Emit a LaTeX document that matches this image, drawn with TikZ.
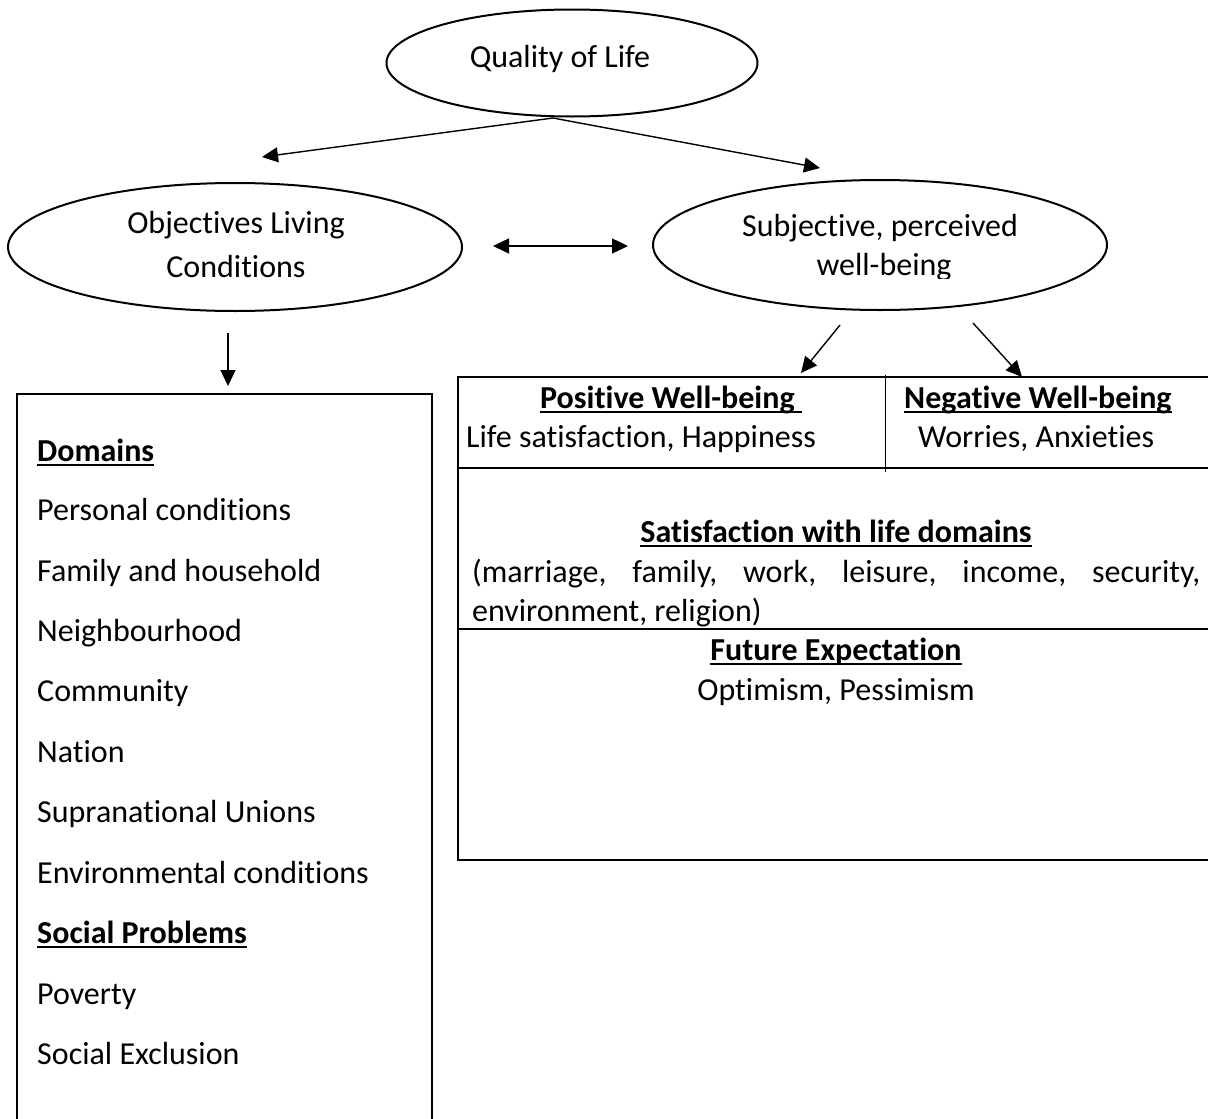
\documentclass[tikz,border=0pt]{standalone}
\usepackage{fontspec}
\setmainfont{Carlito}[Ligatures={NoCommon}]
\usetikzlibrary{shapes.geometric,arrows.meta}
\newcommand\ulx[1]{\setbox0\hbox{#1}\rlap{\rule[-5pt]{\wd0}{2.4pt}}\box0}
\begin{document}
\begin{tikzpicture}[x=1pt,y=-1pt,
  font=\fontsize{32}{44}\selectfont,
  oval/.style={draw, ellipse, line width=2pt, inner sep=0pt},
  arr/.style={line width=1.4pt, -{Triangle[length=16pt,width=15pt]}},
  dbl/.style={line width=1.4pt, {Triangle[length=16pt,width=15pt]}-{Triangle[length=16pt,width=15pt]}},
  boxline/.style={line width=2.5pt},
  txt/.style={inner sep=0pt, anchor=base west},
  ctxt/.style={inner sep=0pt, anchor=base}]
\useasboundingbox (0,0) rectangle (1208,1119);
\clip (0,0) rectangle (1208,1119);

% ellipses
\node[oval, minimum width=371pt, minimum height=107pt] (qol) at (572,63) {};
\node[ctxt] (qolt) at (560,67) {Quality of Life};

\node[oval, minimum width=454pt, minimum height=128pt] (obj) at (235,247) {};
\node[ctxt] (objt1) at (236,233) {Objectives Living};
\node[ctxt] (objt2) at (236,277) {Conditions};

\node[oval, minimum width=454pt, minimum height=130pt] (subj) at (880,245) {};
\node[ctxt] (subjt1) at (880,236) {Subjective, perceived};
\begin{scope}
  \clip (700,250) rectangle (1060,278.5);
  \node[ctxt] (subjt2) at (884,275) {well-being};
\end{scope}

% connector end points
\coordinate (q1) at (553,118);
\coordinate (objtip) at (262,157);
\coordinate (subjtip) at (820,168);
\coordinate (d1) at (493,246);
\coordinate (d2) at (628,246);
\coordinate (o1) at (228,333);
\coordinate (otip) at (228,386);
\coordinate (s1) at (840,325);
\coordinate (ptip) at (801,373);
\coordinate (s2) at (973,323);
\coordinate (ntip) at (1022,377);

\draw[arr] (q1) -- (objtip);
\draw[arr] (q1) -- (subjtip);
\draw[dbl] (d1) -- (d2);
\draw[arr] (o1) -- (otip);
\draw[arr] (s1) -- (ptip);
\draw[arr] (s2) -- (ntip);

% left box
\draw[boxline] (17,394) rectangle (432,1150);
\node[txt] (dom) at (37,461) {\bfseries\ulx{Domains}};
\node[txt] (d01) at (37,520) {Personal conditions};
\node[txt] (d02) at (37,581) {Family and household};
\node[txt] (d03) at (37,641) {Neighbourhood};
\node[txt] (d04) at (37,701) {Community};
\node[txt] (d05) at (37,762) {Nation};
\node[txt] (d06) at (37,822) {Supranational Unions};
\node[txt] (d07) at (37,883) {Environmental conditions};
\node[txt] (sp) at (37,943) {\bfseries\ulx{Social Problems}};
\node[txt] (p01) at (37,1004) {Poverty};
\node[txt] (p02) at (37,1064) {Social Exclusion};

% right box
\draw[boxline] (1240,377) -- (458,377) -- (458,860) -- (1240,860);
\draw[boxline] (458,468) -- (1240,468);
\draw[boxline] (458,629) -- (1240,629);
\draw[line width=1pt] (885,375) -- (885,472);

\node[ctxt] (pos) at (671,408) {\bfseries\ulx{Positive Well-being\ }};
\node[txt] (post) at (466,447) {Life satisfaction, Happiness};
\node[txt] (neg) at (904,408) {\bfseries\ulx{Negative Well-being}};
\node[txt] (negt) at (918,447) {Worries, Anxieties};

\node[ctxt] (sat) at (836,542) {\bfseries\ulx{Satisfaction with life domains}};
\node[txt] (satl1) at (472,582) {\hbox to 728pt{(marriage,\hfill family,\hfill work,\hfill leisure,\hfill income,\hfill security,}};
\node[txt] (satl2) at (472,621) {environment, religion)};

\node[ctxt] (fut) at (836,660) {\bfseries\ulx{Future Expectation}};
\node[ctxt] (futt) at (836,700) {Optimism, Pessimism};
\end{tikzpicture}
\end{document}
